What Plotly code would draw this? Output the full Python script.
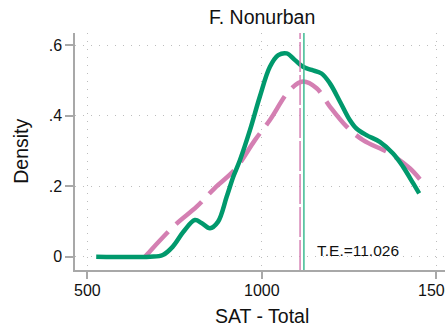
import plotly.graph_objects as go

# Kernel density estimates of SAT total scores, nonurban schools
sat_actual = [525, 679, 716, 744, 775, 808, 827, 851, 874, 899, 918, 937, 966, 994,
              1023, 1047, 1071, 1095, 1118, 1143, 1171, 1195, 1224, 1252, 1271, 1300,
              1338, 1376, 1405, 1434, 1451]
dens_actual = [0.0, 0.0, 0.005, 0.028, 0.071, 0.104, 0.096, 0.081, 0.099, 0.170, 0.227,
               0.274, 0.360, 0.454, 0.539, 0.572, 0.577, 0.558, 0.539, 0.530, 0.520,
               0.492, 0.440, 0.388, 0.364, 0.345, 0.326, 0.293, 0.255, 0.208, 0.180]

sat_counter = [665, 674, 751, 813, 865, 923, 980, 1023, 1080, 1118, 1157, 1195, 1243,
               1290, 1367, 1424, 1453]
dens_counter = [0.0, 0.01, 0.090, 0.142, 0.195, 0.248, 0.331, 0.388, 0.473, 0.497, 0.478,
                0.426, 0.369, 0.331, 0.293, 0.251, 0.220]

mean_actual = 1120.5
mean_counter = 1109.5
te_label = "T.E.=11.026"

x_ticks = [500, 1000, 1500]
x_ticktext = ["500", "1000", "1500"]
y_ticks = [0, 0.2, 0.4, 0.6]
y_ticktext = ["0", ".2", ".4", ".6"]

GREEN = "#00996C"
PINK = "#D47FB2"
AXIS = "#A8A8A8"
GRID = "#BDBDBD"
FONT = "Liberation Sans, Arial, Helvetica, sans-serif"
TXT = "#111111"

fig = go.Figure()

fig.add_trace(go.Scatter(
    x=sat_counter, y=dens_counter, mode="lines", line_shape="spline",
    line=dict(color=PINK, width=4.5, dash="34px,11px"), hoverinfo="skip"))
fig.add_trace(go.Scatter(
    x=sat_actual, y=dens_actual, mode="lines", line_shape="spline",
    line=dict(color=GREEN, width=4.5), hoverinfo="skip"))

# mean markers
fig.add_shape(type="line", xref="x", yref="paper", x0=mean_counter, x1=mean_counter,
              y0=0, y1=1, line=dict(color=PINK, width=1.5, dash="30px,3px"))
fig.add_shape(type="line", xref="x", yref="paper", x0=mean_actual, x1=mean_actual,
              y0=0, y1=1, line=dict(color="#3DBB92", width=1.5))

fig.add_annotation(x=1152, y=0.017, xref="x", yref="y", text=te_label, showarrow=False,
                   xanchor="left", yanchor="middle", font=dict(family=FONT, size=15.5, color=TXT))

# x tick labels (the rightmost one runs past the page edge)
for v, t in zip(x_ticks, x_ticktext):
    fig.add_annotation(x=v, y=-0.0865, xref="x", yref="paper", text=t, showarrow=False,
                       xanchor="center", yanchor="middle",
                       font=dict(family=FONT, size=16, color=TXT))

fig.add_annotation(x=1000, y=1.068, xref="x", yref="paper", text="F. Nonurban", showarrow=False,
                   xanchor="center", yanchor="middle", font=dict(family=FONT, size=19.5, color=TXT))
fig.add_annotation(x=1000, y=-0.196, xref="x", yref="paper", text="SAT - Total", showarrow=False,
                   xanchor="center", yanchor="middle", font=dict(family=FONT, size=19.5, color=TXT))
fig.add_annotation(x=-0.148, y=0.5, xref="paper", yref="paper", text="Density", showarrow=False,
                   textangle=-90, xanchor="center", yanchor="middle",
                   font=dict(family=FONT, size=19.5, color=TXT))

fig.update_xaxes(range=[464.2, 1525], tickvals=x_ticks, showticklabels=False,
                 ticks="outside", ticklen=7,
                 tickwidth=1.5, tickcolor=AXIS, showline=True, linecolor=AXIS, linewidth=1.5,
                 showgrid=True, gridcolor=GRID, gridwidth=1, griddash="1px,7px",
                 zeroline=False)
fig.update_yaxes(range=[-0.0377, 0.635], tickvals=y_ticks, ticktext=y_ticktext,
                 ticks="outside", ticklen=8, tickwidth=1.5, tickcolor=AXIS, showline=True,
                 linecolor=AXIS, linewidth=1.5, showgrid=True, gridcolor=GRID, gridwidth=1,
                 griddash="1px,7px", zeroline=False,
                 tickfont=dict(family=FONT, size=16, color=TXT))

fig.update_layout(width=445, height=330, margin=dict(l=75, r=0, t=33, b=60),
                  paper_bgcolor="white", plot_bgcolor="white", showlegend=False,
                  font=dict(family=FONT))

fig.write_html("out.html")
